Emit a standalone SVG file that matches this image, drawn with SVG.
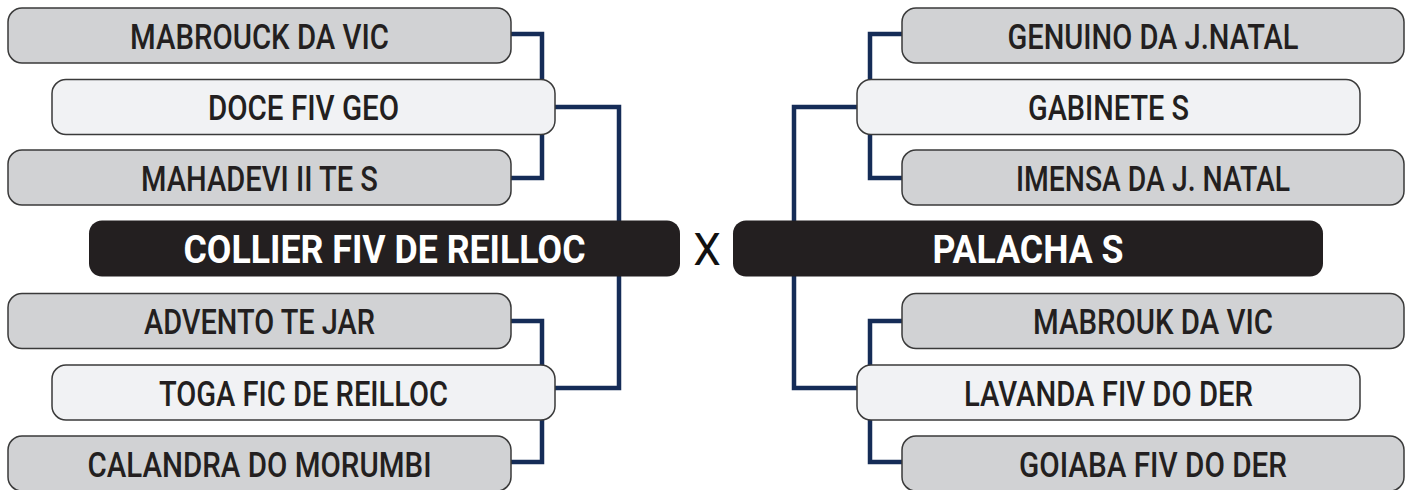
<svg xmlns="http://www.w3.org/2000/svg" width="1412" height="490" viewBox="0 0 1412 490">
<style>
.bg{fill:#ffffff}
.gray{fill:#d1d2d4;stroke:#3a3a3a;stroke-width:1.5}
.light{fill:#f1f2f4;stroke:#3a3a3a;stroke-width:1.5}
.dark{fill:#231f20}
.conn{fill:none;stroke:#152c57;stroke-width:4.5;stroke-linejoin:miter}
.t{font-family:Roboto,"Liberation Sans",sans-serif;font-weight:500;font-size:35px;fill:#231f20;text-anchor:middle}
.tb{font-family:Roboto,"Liberation Sans",sans-serif;font-weight:700;font-size:39px;fill:#ffffff;text-anchor:middle}
.x{font-family:Roboto,"Liberation Sans",sans-serif;font-weight:400;font-size:44px;fill:#111111;text-anchor:middle}
</style>
<rect class="bg" x="0" y="0" width="1412" height="490"/>
<g id="connectors">
<path class="conn" d="M511,34 H542 V178 H511"/>
<path class="conn" d="M555,107 H619 V388 H555"/>
<path class="conn" d="M511,321 H542 V462 H511"/>
<path class="conn" d="M902,34 H870 V178 H902"/>
<path class="conn" d="M857,107 H794 V388 H857"/>
<path class="conn" d="M902,321 H870 V462 H902"/>
</g>
<g id="n-mabrouck-da-vic-l"><rect class="gray" x="8" y="8" width="503" height="55" rx="14"/><text class="t" x="259.5" y="48.5" textLength="259" lengthAdjust="spacingAndGlyphs">MABROUCK DA VIC</text></g>
<g id="n-doce-fiv-geo"><rect class="light" x="52" y="79.5" width="503" height="55" rx="14"/><text class="t" x="303.5" y="120" textLength="191" lengthAdjust="spacingAndGlyphs">DOCE FIV GEO</text></g>
<g id="n-mahadevi"><rect class="gray" x="8" y="150" width="503" height="55" rx="14"/><text class="t" x="259.5" y="190.5" textLength="237" lengthAdjust="spacingAndGlyphs">MAHADEVI II TE S</text></g>
<g id="n-collier"><rect class="dark" x="89" y="220.5" width="591" height="56" rx="13"/><text class="tb" x="384.5" y="262.5" textLength="402" lengthAdjust="spacingAndGlyphs">COLLIER FIV DE REILLOC</text></g>
<g id="n-x"><text class="x" x="707" y="265">X</text></g>
<g id="n-advento"><rect class="gray" x="8" y="293.5" width="503" height="55" rx="14"/><text class="t" x="259.5" y="334" textLength="231" lengthAdjust="spacingAndGlyphs">ADVENTO TE JAR</text></g>
<g id="n-toga"><rect class="light" x="52" y="365" width="503" height="55" rx="14"/><text class="t" x="303.5" y="405.5" textLength="289" lengthAdjust="spacingAndGlyphs">TOGA FIC DE REILLOC</text></g>
<g id="n-calandra"><rect class="gray" x="8" y="436" width="503" height="55" rx="14"/><text class="t" x="259.5" y="476.5" textLength="344" lengthAdjust="spacingAndGlyphs">CALANDRA DO MORUMBI</text></g>
<g id="n-genuino"><rect class="gray" x="902" y="8" width="502" height="55" rx="14"/><text class="t" x="1153" y="48.5" textLength="291" lengthAdjust="spacingAndGlyphs">GENUINO DA J.NATAL</text></g>
<g id="n-gabinete"><rect class="light" x="857" y="79.5" width="503" height="55" rx="14"/><text class="t" x="1108.5" y="120" textLength="161" lengthAdjust="spacingAndGlyphs">GABINETE S</text></g>
<g id="n-imensa"><rect class="gray" x="902" y="150" width="502" height="55" rx="14"/><text class="t" x="1153" y="190.5" textLength="274" lengthAdjust="spacingAndGlyphs">IMENSA DA J. NATAL</text></g>
<g id="n-palacha"><rect class="dark" x="733" y="220.5" width="590" height="56" rx="13"/><text class="tb" x="1028" y="262.5" textLength="191" lengthAdjust="spacingAndGlyphs">PALACHA S</text></g>
<g id="n-mabrouk-da-vic-r"><rect class="gray" x="902" y="293.5" width="502" height="55" rx="14"/><text class="t" x="1153" y="334" textLength="240" lengthAdjust="spacingAndGlyphs">MABROUK DA VIC</text></g>
<g id="n-lavanda"><rect class="light" x="857" y="365" width="503" height="55" rx="14"/><text class="t" x="1108.5" y="405.5" textLength="289" lengthAdjust="spacingAndGlyphs">LAVANDA FIV DO DER</text></g>
<g id="n-goiaba"><rect class="gray" x="902" y="436" width="502" height="55" rx="14"/><text class="t" x="1153" y="476.5" textLength="268" lengthAdjust="spacingAndGlyphs">GOIABA FIV DO DER</text></g>
</svg>
